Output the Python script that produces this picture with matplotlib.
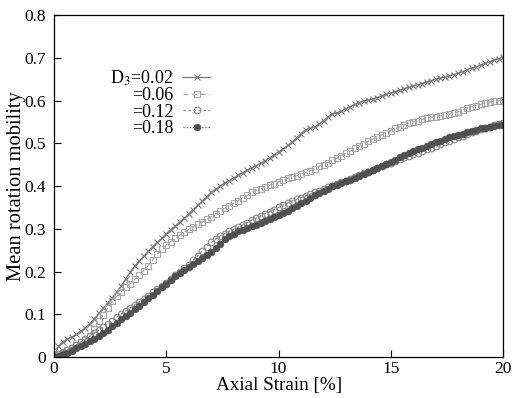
import numpy as np
import matplotlib
matplotlib.use("Agg")
import matplotlib.pyplot as plt

plt.rcParams['font.family'] = ['Liberation Serif', 'DejaVu Serif']
plt.rcParams['mathtext.fontset'] = 'stix'

# axial strain [%], sampled every 0.2 %
strain = np.linspace(0, 20, 101)

d3_002 = [0.0, 0.025, 0.036, 0.042, 0.047, 0.053, 0.06, 0.068, 0.078, 0.09,
          0.102, 0.115, 0.127, 0.139, 0.152, 0.167, 0.183, 0.199, 0.213, 0.224,
          0.236, 0.247, 0.258, 0.268, 0.278, 0.289, 0.298, 0.307, 0.316, 0.325,
          0.335, 0.345, 0.355, 0.365, 0.375, 0.385, 0.393, 0.4, 0.407, 0.413,
          0.419, 0.425, 0.431, 0.437, 0.442, 0.448, 0.453, 0.459, 0.466, 0.473,
          0.48, 0.487, 0.495, 0.503, 0.513, 0.523, 0.532, 0.535, 0.538, 0.545,
          0.553, 0.562, 0.569, 0.571, 0.575, 0.581, 0.586, 0.591, 0.595, 0.599,
          0.601, 0.604, 0.607, 0.611, 0.615, 0.618, 0.621, 0.624, 0.628, 0.631,
          0.634, 0.637, 0.64, 0.644, 0.647, 0.65, 0.653, 0.655, 0.658, 0.661,
          0.664, 0.668, 0.672, 0.676, 0.679, 0.683, 0.687, 0.691, 0.694, 0.698,
          0.703]
d3_006 = [0.0, 0.004, 0.01, 0.016, 0.022, 0.028, 0.034, 0.04, 0.05, 0.065,
          0.085, 0.099, 0.115, 0.13, 0.142, 0.153, 0.163, 0.172, 0.182, 0.192,
          0.202, 0.214, 0.228, 0.24, 0.252, 0.262, 0.27, 0.278, 0.285, 0.292,
          0.299, 0.305, 0.311, 0.316, 0.322, 0.328, 0.335, 0.342, 0.348, 0.354,
          0.36, 0.366, 0.372, 0.378, 0.385, 0.39, 0.394, 0.398, 0.402, 0.406,
          0.41, 0.414, 0.418, 0.421, 0.424, 0.428, 0.432, 0.436, 0.44, 0.446,
          0.45, 0.455, 0.46, 0.465, 0.471, 0.477, 0.482, 0.488, 0.493, 0.499,
          0.505, 0.51, 0.515, 0.52, 0.525, 0.53, 0.535, 0.539, 0.543, 0.547,
          0.55, 0.553, 0.556, 0.559, 0.561, 0.562, 0.564, 0.566, 0.568, 0.571,
          0.574, 0.578, 0.582, 0.585, 0.588, 0.591, 0.594, 0.597, 0.598, 0.599,
          0.601]
d3_012 = [0.0, 0.006, 0.011, 0.016, 0.022, 0.028, 0.035, 0.042, 0.049, 0.056,
          0.063, 0.07, 0.078, 0.085, 0.093, 0.101, 0.108, 0.115, 0.122, 0.129,
          0.136, 0.143, 0.151, 0.159, 0.166, 0.173, 0.182, 0.191, 0.2, 0.208,
          0.216, 0.226, 0.237, 0.248, 0.258, 0.268, 0.276, 0.283, 0.289, 0.294,
          0.299, 0.304, 0.309, 0.314, 0.32, 0.325, 0.33, 0.335, 0.34, 0.345,
          0.35, 0.355, 0.36, 0.365, 0.369, 0.373, 0.377, 0.381, 0.385, 0.389,
          0.393, 0.397, 0.401, 0.405, 0.409, 0.413, 0.417, 0.421, 0.426, 0.43,
          0.434, 0.438, 0.442, 0.447, 0.451, 0.455, 0.459, 0.463, 0.467, 0.471,
          0.474, 0.478, 0.482, 0.486, 0.49, 0.494, 0.498, 0.502, 0.506, 0.51,
          0.514, 0.518, 0.522, 0.526, 0.53, 0.533, 0.536, 0.539, 0.542, 0.545,
          0.548]
d3_018 = [0.0, 0.003, 0.006, 0.01, 0.015, 0.02, 0.025, 0.031, 0.037, 0.043,
          0.049, 0.056, 0.064, 0.072, 0.08, 0.088, 0.096, 0.104, 0.112, 0.12,
          0.128, 0.137, 0.146, 0.155, 0.164, 0.172, 0.181, 0.19, 0.197, 0.204,
          0.211, 0.218, 0.225, 0.232, 0.239, 0.246, 0.255, 0.265, 0.275, 0.283,
          0.289, 0.294, 0.298, 0.302, 0.306, 0.31, 0.314, 0.318, 0.322, 0.327,
          0.332, 0.337, 0.342, 0.348, 0.354, 0.36, 0.366, 0.372, 0.378, 0.384,
          0.389, 0.394, 0.399, 0.403, 0.407, 0.411, 0.415, 0.419, 0.423, 0.428,
          0.432, 0.437, 0.442, 0.447, 0.452, 0.457, 0.462, 0.467, 0.472, 0.477,
          0.481, 0.486, 0.49, 0.494, 0.498, 0.502, 0.506, 0.51, 0.514, 0.517,
          0.52, 0.523, 0.526, 0.529, 0.532, 0.535, 0.537, 0.539, 0.541, 0.542,
          0.543]

labels = ['D$_3$=0.02', '=0.06', '=0.12', '=0.18']

fig = plt.figure(figsize=(5.14, 3.98), dpi=100)
ax = fig.add_axes([0.105, 0.103, 0.874, 0.859])

ax.plot(strain, d3_002, color='#7a7a7a', lw=0.9, marker='x', ms=4.5, mew=0.8,
        label=labels[0])
ax.plot(strain, d3_006, color='#a8a8a8', lw=0.9, ls=(0, (4, 3)), marker='s', ms=4.5,
        mfc='none', mew=0.8, label=labels[1])
ax.plot(strain, d3_012, color='#888888', lw=0.9, ls=(0, (2, 2)), marker='o', ms=4.8,
        mfc='none', mew=0.8, label=labels[2])
ax.plot(strain, d3_018, color='#505050', lw=0.9, ls=(0, (1, 1.5)), marker='o', ms=4.8,
        mew=0.5, label=labels[3])

ax.set_xlim(0, 20)
ax.set_ylim(0, 0.8)
ax.set_xticks([0, 5, 10, 15, 20])
ax.set_yticks(np.arange(0, 0.81, 0.1))
ax.set_yticklabels(['0', '0.1', '0.2', '0.3', '0.4', '0.5', '0.6', '0.7', '0.8'])
ax.tick_params(direction='in', length=5, width=0.8, labelsize=12.5)
ax.tick_params(axis='x', pad=3)
ax.tick_params(axis='y', pad=6)
for s in ax.spines.values():
    s.set_linewidth(0.9)

ax.set_xlabel('Axial Strain [%]', fontsize=13.8, labelpad=0)
ax.set_ylabel('Mean rotation mobility', fontsize=14.8)
ax.yaxis.set_label_coords(-0.062, 0.5)

ax.legend(loc='upper right', bbox_to_anchor=(0.368, 0.87), frameon=False,
          markerfirst=False, fontsize=13, borderpad=0, labelspacing=-0.04,
          handlelength=1.5, handletextpad=0.55)

fig.savefig('out.png', dpi=100)
